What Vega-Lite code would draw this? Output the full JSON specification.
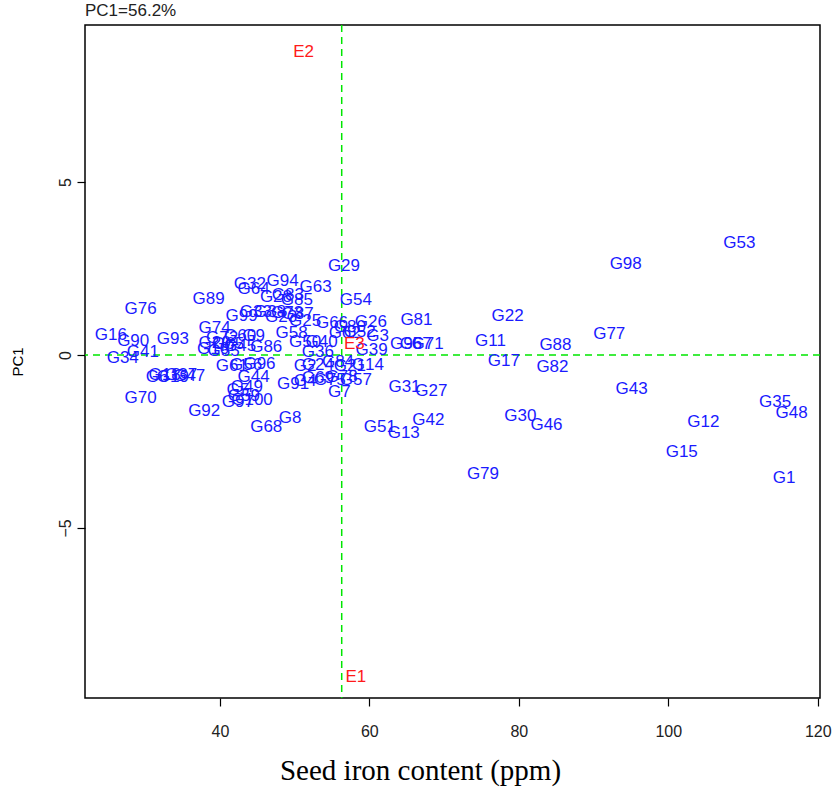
{
  "$schema": "https://vega.github.io/schema/vega-lite/v6.json",
  "width": 735,
  "height": 673,
  "autosize": "none",
  "padding": {"left": 85, "top": 25, "right": 16, "bottom": 90},
  "background": "white",
  "config": {
    "view": {"stroke": "black", "strokeWidth": 1.5},
    "axis": {"grid": false, "domain": false, "tickColor": "black", "tickSize": 8, "tickWidth": 1.2, "labelColor": "#222222", "labelFont": "Liberation Sans", "labelFontSize": 16, "titleColor": "black"}
  },
  "title": {"text": "PC1=56.2%", "anchor": "start", "frame": "group", "font": "Liberation Sans", "fontSize": 17, "fontWeight": "normal", "color": "#222222", "offset": 4},
  "datasets": {
    "pts": [
      {"label": "G53", "x": 109.5, "y": 3.24, "type": "G"},
      {"label": "G98", "x": 94.3, "y": 2.63, "type": "G"},
      {"label": "G22", "x": 78.5, "y": 1.13, "type": "G"},
      {"label": "G77", "x": 92.1, "y": 0.61, "type": "G"},
      {"label": "G11", "x": 76.2, "y": 0.40, "type": "G"},
      {"label": "G88", "x": 84.9, "y": 0.29, "type": "G"},
      {"label": "G17", "x": 78.0, "y": -0.17, "type": "G"},
      {"label": "G82", "x": 84.5, "y": -0.35, "type": "G"},
      {"label": "G43", "x": 95.1, "y": -0.98, "type": "G"},
      {"label": "G35", "x": 114.3, "y": -1.36, "type": "G"},
      {"label": "G48", "x": 116.5, "y": -1.68, "type": "G"},
      {"label": "G12", "x": 104.7, "y": -1.94, "type": "G"},
      {"label": "G30", "x": 80.2, "y": -1.76, "type": "G"},
      {"label": "G46", "x": 83.7, "y": -2.02, "type": "G"},
      {"label": "G15", "x": 101.8, "y": -2.80, "type": "G"},
      {"label": "G79", "x": 75.2, "y": -3.44, "type": "G"},
      {"label": "G1", "x": 115.5, "y": -3.55, "type": "G"},
      {"label": "G42", "x": 67.9, "y": -1.88, "type": "G"},
      {"label": "G13", "x": 64.6, "y": -2.25, "type": "G"},
      {"label": "G51", "x": 61.4, "y": -2.08, "type": "G"},
      {"label": "G31", "x": 64.7, "y": -0.92, "type": "G"},
      {"label": "G27", "x": 68.3, "y": -1.04, "type": "G"},
      {"label": "G81", "x": 66.3, "y": 1.01, "type": "G"},
      {"label": "G95", "x": 64.9, "y": 0.32, "type": "G"},
      {"label": "G67", "x": 66.2, "y": 0.32, "type": "G"},
      {"label": "G71", "x": 67.8, "y": 0.32, "type": "G"},
      {"label": "G3", "x": 61.1, "y": 0.55, "type": "G"},
      {"label": "G26", "x": 60.2, "y": 0.95, "type": "G"},
      {"label": "G29", "x": 56.6, "y": 2.57, "type": "G"},
      {"label": "G54", "x": 58.2, "y": 1.59, "type": "G"},
      {"label": "G63", "x": 52.8, "y": 1.97, "type": "G"},
      {"label": "G94", "x": 48.4, "y": 2.14, "type": "G"},
      {"label": "G32", "x": 44.0, "y": 2.05, "type": "G"},
      {"label": "G64", "x": 44.5, "y": 1.91, "type": "G"},
      {"label": "G28", "x": 47.5, "y": 1.68, "type": "G"},
      {"label": "G83", "x": 49.1, "y": 1.73, "type": "G"},
      {"label": "G85", "x": 50.3, "y": 1.59, "type": "G"},
      {"label": "G89", "x": 38.5, "y": 1.62, "type": "G"},
      {"label": "G76", "x": 29.4, "y": 1.33, "type": "G"},
      {"label": "G16", "x": 25.4, "y": 0.58, "type": "G"},
      {"label": "G90", "x": 28.4, "y": 0.40, "type": "G"},
      {"label": "G93", "x": 33.7, "y": 0.46, "type": "G"},
      {"label": "G41", "x": 29.7, "y": 0.09, "type": "G"},
      {"label": "G34", "x": 27.0, "y": -0.09, "type": "G"},
      {"label": "G70", "x": 29.4, "y": -1.24, "type": "G"},
      {"label": "G6", "x": 31.6, "y": -0.64, "type": "G"},
      {"label": "G18", "x": 32.6, "y": -0.58, "type": "G"},
      {"label": "G19", "x": 33.7, "y": -0.64, "type": "G"},
      {"label": "G37", "x": 34.8, "y": -0.58, "type": "G"},
      {"label": "G47", "x": 35.9, "y": -0.61, "type": "G"},
      {"label": "G92", "x": 37.9, "y": -1.62, "type": "G"},
      {"label": "G68", "x": 46.2, "y": -2.08, "type": "G"},
      {"label": "G8", "x": 49.4, "y": -1.82, "type": "G"},
      {"label": "G44", "x": 44.5, "y": -0.64, "type": "G"},
      {"label": "G61", "x": 41.6, "y": -0.32, "type": "G"},
      {"label": "G56", "x": 43.5, "y": -0.29, "type": "G"},
      {"label": "G96", "x": 45.3, "y": -0.26, "type": "G"},
      {"label": "G5", "x": 42.4, "y": -1.01, "type": "G"},
      {"label": "G49", "x": 43.6, "y": -0.92, "type": "G"},
      {"label": "G59", "x": 43.2, "y": -1.18, "type": "G"},
      {"label": "G97", "x": 42.4, "y": -1.36, "type": "G"},
      {"label": "G100", "x": 44.3, "y": -1.30, "type": "G"},
      {"label": "G74", "x": 39.3, "y": 0.78, "type": "G"},
      {"label": "G72", "x": 40.3, "y": 0.49, "type": "G"},
      {"label": "G60", "x": 42.7, "y": 0.55, "type": "G"},
      {"label": "G9", "x": 44.5, "y": 0.55, "type": "G"},
      {"label": "G20", "x": 39.3, "y": 0.35, "type": "G"},
      {"label": "G65", "x": 41.1, "y": 0.32, "type": "G"},
      {"label": "G10", "x": 39.1, "y": 0.17, "type": "G"},
      {"label": "G55", "x": 40.5, "y": 0.12, "type": "G"},
      {"label": "G45", "x": 42.7, "y": 0.26, "type": "G"},
      {"label": "G86", "x": 46.2, "y": 0.23, "type": "G"},
      {"label": "G99", "x": 42.9, "y": 1.13, "type": "G"},
      {"label": "G33", "x": 44.8, "y": 1.24, "type": "G"},
      {"label": "G38", "x": 46.7, "y": 1.24, "type": "G"},
      {"label": "G23", "x": 48.2, "y": 1.10, "type": "G"},
      {"label": "G73", "x": 49.0, "y": 1.21, "type": "G"},
      {"label": "G87", "x": 50.4, "y": 1.18, "type": "G"},
      {"label": "G25", "x": 51.4, "y": 0.98, "type": "G"},
      {"label": "G58", "x": 49.6, "y": 0.64, "type": "G"},
      {"label": "G50", "x": 51.4, "y": 0.38, "type": "G"},
      {"label": "G40", "x": 53.6, "y": 0.38, "type": "G"},
      {"label": "G36", "x": 53.1, "y": 0.09, "type": "G"},
      {"label": "G66", "x": 55.0, "y": 0.92, "type": "G"},
      {"label": "G80", "x": 57.4, "y": 0.81, "type": "G"},
      {"label": "G62", "x": 56.7, "y": 0.64, "type": "G"},
      {"label": "G52", "x": 58.7, "y": 0.66, "type": "G"},
      {"label": "G39", "x": 60.3, "y": 0.14, "type": "G"},
      {"label": "G2", "x": 51.4, "y": -0.32, "type": "G"},
      {"label": "G24", "x": 53.1, "y": -0.29, "type": "G"},
      {"label": "G84", "x": 55.8, "y": -0.20, "type": "G"},
      {"label": "G21", "x": 57.4, "y": -0.32, "type": "G"},
      {"label": "G14", "x": 59.8, "y": -0.29, "type": "G"},
      {"label": "G91", "x": 49.8, "y": -0.84, "type": "G"},
      {"label": "G4", "x": 51.4, "y": -0.75, "type": "G"},
      {"label": "G69", "x": 53.1, "y": -0.66, "type": "G"},
      {"label": "G75", "x": 54.7, "y": -0.72, "type": "G"},
      {"label": "G78", "x": 56.3, "y": -0.64, "type": "G"},
      {"label": "G57", "x": 58.2, "y": -0.72, "type": "G"},
      {"label": "G7", "x": 56.0, "y": -1.07, "type": "G"},
      {"label": "E3", "x": 58.0, "y": 0.32, "type": "E"},
      {"label": "E2", "x": 51.2, "y": 8.76, "type": "E"},
      {"label": "E1", "x": 58.2, "y": -9.31, "type": "E"}
    ],
    "vline": [{"v": 56.3}],
    "hline": [{"v": 0}]
  },
  "layer": [
    {
      "data": {"name": "vline"},
      "mark": {"type": "rule", "color": "#00e600", "strokeWidth": 1.5, "strokeDash": [7, 5]},
      "encoding": {"x": {"field": "v", "type": "quantitative", "scale": {"domain": [21.95, 120.3]}}}
    },
    {
      "data": {"name": "hline"},
      "mark": {"type": "rule", "color": "#00e600", "strokeWidth": 1.5, "strokeDash": [7, 5]},
      "encoding": {"y": {"field": "v", "type": "quantitative", "scale": {"domain": [-9.92, 9.54]}}}
    },
    {
      "data": {"name": "pts"},
      "mark": {"type": "text", "font": "Liberation Sans", "fontSize": 17, "align": "center", "baseline": "middle"},
      "encoding": {
        "x": {"field": "x", "type": "quantitative", "scale": {"domain": [21.95, 120.3], "nice": false, "zero": false},
          "axis": {"values": [40, 60, 80, 100, 120], "title": "Seed iron content (ppm)", "titleFont": "Liberation Serif", "titleFontSize": 29, "titleFontWeight": "normal", "titleX": 335, "titleAlign": "center", "titleAnchor": null, "labelPadding": 17, "titlePadding": 17}},
        "y": {"field": "y", "type": "quantitative", "scale": {"domain": [-9.92, 9.54], "nice": false, "zero": false},
          "axis": {"values": [-5, 0, 5], "title": "PC1", "titleFont": "Liberation Sans", "titleFontSize": 15, "titleFontWeight": "normal", "labelAngle": -90, "labelAlign": "center", "labelBaseline": "bottom", "labelPadding": 4, "titlePadding": 32}},
        "text": {"field": "label", "type": "nominal"},
        "color": {"field": "type", "type": "nominal", "scale": {"domain": ["G", "E"], "range": ["#1a1aff", "#ff1a1a"]}, "legend": null}
      }
    }
  ]
}
